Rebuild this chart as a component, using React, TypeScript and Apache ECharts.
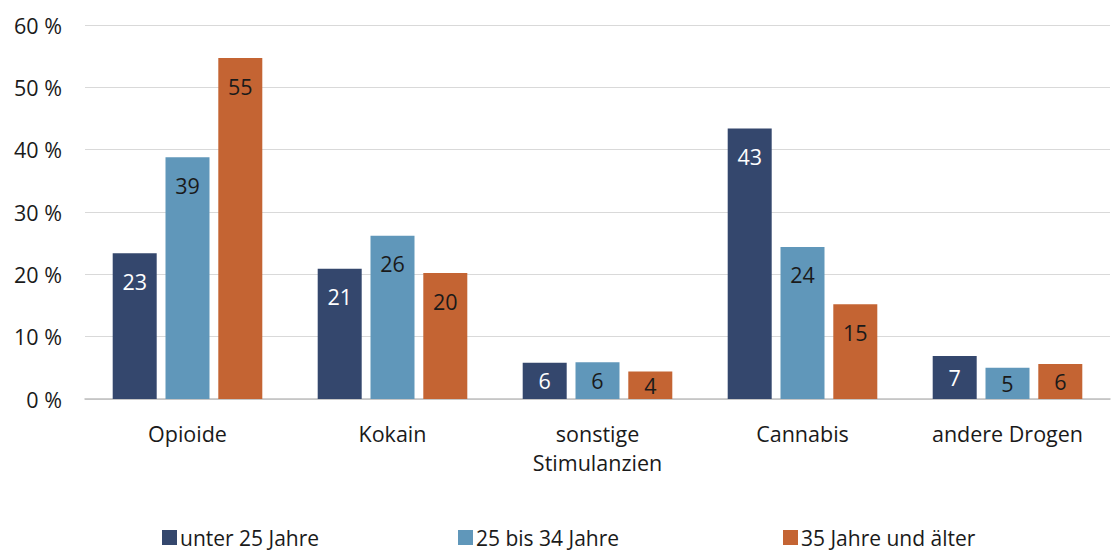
import React, { useEffect, useRef } from "react";
import * as echarts from "echarts";

const categories = ["Opioide", "Kokain", "sonstige\nStimulanzien", "Cannabis", "andere Drogen"];
const seriesNames = ["unter 25 Jahre", "25 bis 34 Jahre", "35 Jahre und älter"];
const under25 = [23.4, 20.9, 5.8, 43.4, 6.9];
const age25to34 = [38.8, 26.2, 5.9, 24.4, 5.0];
const age35plus = [54.7, 20.2, 4.4, 15.2, 5.6];
const colors = ["#34476D", "#6097BA", "#C46433"];
const labelColors = ["#ffffff", "#1a1a1a", "#1a1a1a"];
const yTicks = [0, 10, 20, 30, 40, 50, 60];

const FONT = "'Open Sans', 'Noto Sans', sans-serif";
const FS = 21.5;

export default function App() {
  const ref = useRef<HTMLDivElement>(null);
  useEffect(() => {
    if (!ref.current) return;
    const chart = echarts.init(ref.current, null, { renderer: "svg" });
    const allData = [under25, age25to34, age35plus];
    const legendLefts = [162, 458, 783];
    chart.setOption({
      animation: false,
      textStyle: { fontFamily: FONT },
      grid: { left: 85, right: 1, top: 25, bottom: 153, containLabel: false },
      legend: seriesNames.map((n, i) => ({
        data: [n],
        left: legendLefts[i],
        top: 527,
        padding: 0,
        itemWidth: 15,
        itemHeight: 15,
        itemGap: 4,
        icon: "rect",
        textStyle: { fontFamily: FONT, fontSize: 21, color: "#1a1a1a", padding: [0, 0, 0, -2], lineHeight: 21 },
        selectedMode: false,
      })),
      xAxis: {
        type: "category",
        data: categories,
        axisLine: { show: true, lineStyle: { color: "#bfbfbf", width: 1.5 } },
        axisTick: { show: false },
        axisLabel: { fontFamily: FONT, fontSize: FS, color: "#1a1a1a", margin: 20, lineHeight: 29, interval: 0 },
      },
      yAxis: {
        type: "value",
        min: yTicks[0],
        max: yTicks[yTicks.length - 1],
        interval: 10,
        axisLine: { show: false },
        axisTick: { show: false },
        splitLine: { lineStyle: { color: "#d9d9d9", width: 1 } },
        axisLabel: {
          fontFamily: FONT,
          fontSize: FS,
          color: "#1a1a1a",
          margin: 23,
          formatter: (v: number) => `${v} %`,
        },
      },
      series: seriesNames.map((name, i) => ({
        name,
        type: "bar",
        barWidth: 44,
        barGap: "20%",
        itemStyle: { color: colors[i] },
        data: allData[i].map((v) => ({
          value: v,
          label: v < 10 ? { position: "inside", distance: 0 } : { position: "insideTop", distance: 17 },
        })),
        label: {
          show: true,
          fontFamily: FONT,
          fontSize: FS,
          color: labelColors[i],
          formatter: (p: any) => `${Math.round(p.value)}`,
        },
      })),
    });
    return () => chart.dispose();
  }, []);
  return <div ref={ref} style={{ width: 1111, height: 552, position: "absolute", left: 0, top: 0 }} />;
}
